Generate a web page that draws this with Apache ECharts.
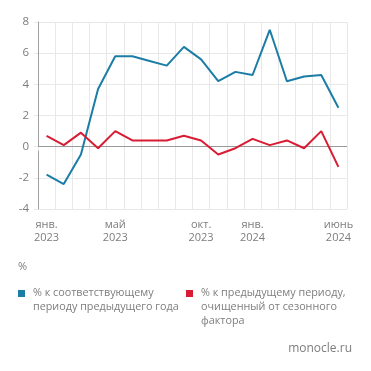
<!DOCTYPE html>
<html><head><meta charset="utf-8">
<script src="https://cdn.jsdelivr.net/npm/echarts@6/dist/echarts.min.js"></script>
<style>html,body{margin:0;padding:0;background:#fff}#c{width:371px;height:371px}</style>
</head><body><div id="c"></div>
<script>
const categories = ['янв.\n2023','фев.\n2023','мар.\n2023','апр.\n2023','май\n2023','июнь\n2023','июль\n2023','авг.\n2023','сен.\n2023','окт.\n2023','нояб.\n2023','дек.\n2023','янв.\n2024','фев.\n2024','мар.\n2024','апр.\n2024','май\n2024','июнь\n2024'];
const shownLabels = [0, 4, 9, 12, 17];
const yoyValues = [-1.8, -2.4, -0.5, 3.7, 5.8, 5.8, 5.5, 5.2, 6.4, 5.6, 4.2, 4.8, 4.6, 7.5, 4.2, 4.5, 4.6, 2.5];
const momSaValues = [0.7, 0.1, 0.9, -0.1, 1.0, 0.4, 0.4, 0.4, 0.7, 0.4, -0.5, -0.1, 0.5, 0.1, 0.4, -0.1, 1.0, -1.3];
const yTicks = [-4, -2, 0, 2, 4, 6, 8];
const seriesNames = ['% к соответствующему\nпериоду предыдущего года', '% к предыдущему периоду,\nочищенный от сезонного\nфактора'];
const unitLabel = '%';
const sourceLabel = 'monocle.ru';

const FONT = '"Open Sans", "DejaVu Sans", sans-serif';
const TXT = '#7d7d7d';
const BLUE = '#1b7da5';
const RED = '#d81c33';
const GRID = '#e8e8e8';

const chart = echarts.init(document.getElementById('c'), null, {renderer: 'canvas'});
chart.setOption({
  animation: false,
  backgroundColor: '#fff',
  textStyle: {fontFamily: FONT},
  grid: {left: 38, right: 24, top: 22, bottom: 162},
  xAxis: {
    type: 'category',
    data: categories,
    boundaryGap: true,
    axisLine: {show: false},
    axisTick: {show: true, alignWithLabel: false, interval: 0, length: 4, lineStyle: {color: GRID}},
    splitLine: {show: true, interval: 0, lineStyle: {color: GRID, width: 1}},
    axisLabel: {
      interval: (i) => shownLabels.includes(i),
      color: TXT, fontSize: 11, lineHeight: 13, margin: 9, fontFamily: FONT
    }
  },
  yAxis: {
    type: 'value',
    min: yTicks[0], max: yTicks[yTicks.length - 1], interval: 2,
    axisLine: {show: true, lineStyle: {color: '#a0a0a0', width: 1}},
    axisTick: {show: true, length: 4, lineStyle: {color: GRID}},
    splitLine: {show: true, lineStyle: {color: GRID, width: 1}},
    axisLabel: {color: TXT, fontSize: 11.5, margin: 9, fontFamily: FONT}
  },
  series: [
    {
      name: seriesNames[0], type: 'line', data: yoyValues, symbol: 'none',
      lineStyle: {color: BLUE, width: 2}, itemStyle: {color: BLUE}, z: 3
    },
    {
      name: seriesNames[1], type: 'line', data: momSaValues, symbol: 'none',
      lineStyle: {color: RED, width: 2}, itemStyle: {color: RED}, z: 4,
      markLine: {
        silent: true, symbol: 'none', label: {show: false},
        lineStyle: {color: '#9a9a9a', width: 1, type: 'solid'},
        data: [{yAxis: 0}], z: 1
      }
    }
  ],
  graphic: [
    {type: 'text', left: 18, top: 261, style: {text: unitLabel, fill: TXT, font: '11px ' + FONT}},
    {type: 'rect', shape: {x: 18, y: 290, width: 7, height: 7}, style: {fill: BLUE}},
    {type: 'text', left: 33, top: 286, style: {text: seriesNames[0], fill: TXT, font: '10.8px ' + FONT, lineHeight: 14}},
    {type: 'rect', shape: {x: 186, y: 290, width: 7, height: 7}, style: {fill: RED}},
    {type: 'text', left: 201, top: 286, style: {text: seriesNames[1], fill: TXT, font: '10.8px ' + FONT, lineHeight: 14}},
    {type: 'text', right: 19, top: 343, style: {text: sourceLabel, fill: TXT, font: '12px ' + FONT}}
  ]
});
</script></body></html>
